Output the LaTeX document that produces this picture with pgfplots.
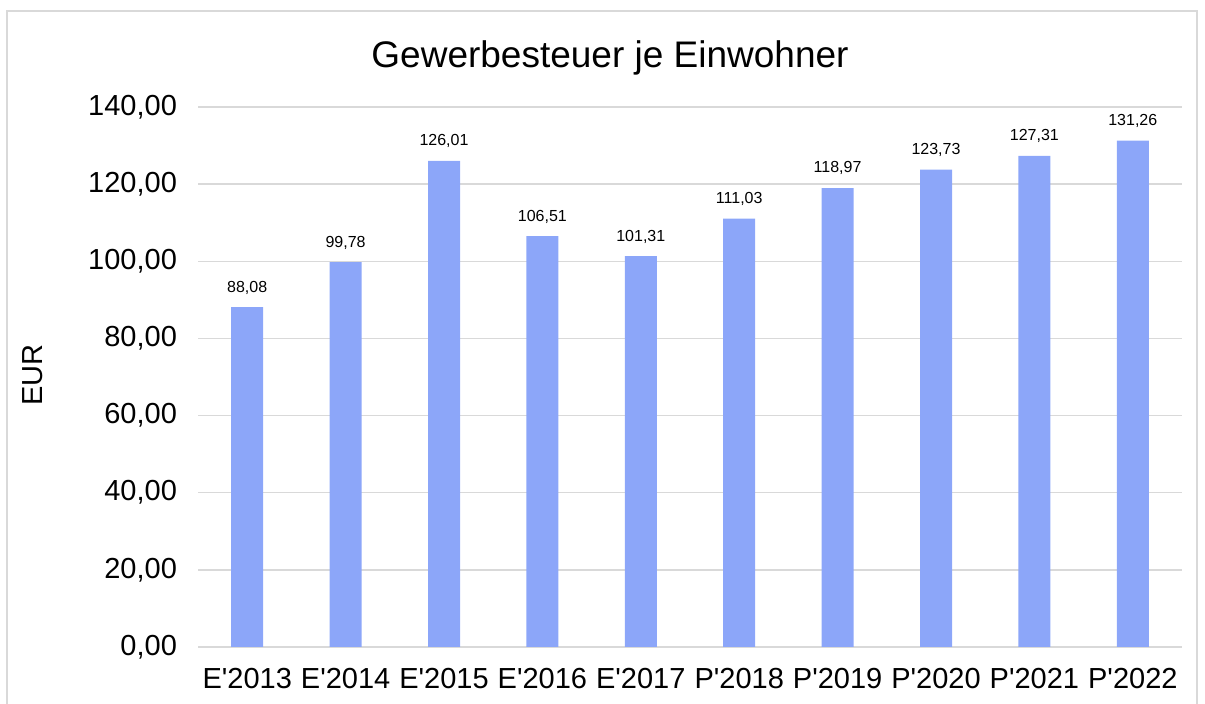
\documentclass[border=0pt]{standalone}
\usepackage{fontspec}
\setmainfont{Liberation Sans}
\usepackage{pgfplots}
\pgfplotsset{compat=1.18}
\definecolor{barblue}{HTML}{8CA6F9}
\definecolor{gridgray}{HTML}{D9D9D9}
\definecolor{framegray}{HTML}{D9D9D9}
\newcommand{\q}{\textquotesingle}

\begin{document}
\begin{tikzpicture}
  \useasboundingbox (0,0) rectangle (602.5pt,352pt);
  \draw[framegray, line width=0.75pt] (3.5pt,-5pt) -- (3.5pt,346.5pt) -- (598.5pt,346.5pt) -- (598.5pt,-5pt);
  \node[font=\fontsize{18.5}{22}\selectfont] at (305pt,323pt) {Gewerbesteuer je Einwohner};
  \node[rotate=90, font=\fontsize{14.5}{17}\selectfont] at (16.5pt,164.5pt) {EUR};
  \begin{axis}[
    at={(99pt,28.5pt)}, anchor=south west,
    scale only axis, width=492pt, height=270pt,
    ybar, bar width=16pt,
    xmin=-0.5, xmax=9.5, ymin=0, ymax=140,
    xtick=data,
    xticklabels={E\q2013,E\q2014,E\q2015,E\q2016,E\q2017,P\q2018,P\q2019,P\q2020,P\q2021,P\q2022},
    ytick={0,20,40,60,80,100,120,140},
    ymajorgrids, grid style={gridgray, line width=0.75pt},
    axis line style={draw=none},
    major tick length=0pt,
    tick label style={font=\fontsize{14.5}{17}\selectfont},
    yticklabel style={xshift=-7pt},
    xticklabel style={yshift=-7pt},
    /pgf/number format/assume math mode=true,
    y tick label style={/pgf/number format/.cd, fixed, fixed zerofill, precision=2, use comma},
    nodes near coords,
    nodes near coords style={font=\fontsize{8}{10}\selectfont, black, yshift=3pt,
      /pgf/number format/.cd, fixed, fixed zerofill, precision=2, use comma, assume math mode=true},
    clip=false,
  ]
    \draw[gridgray, line width=0.75pt] (axis cs:-0.5,0) -- (axis cs:9.5,0);
    \addplot[fill=barblue, draw=none] coordinates {
      (0,88.08) (1,99.78) (2,126.01) (3,106.51) (4,101.31)
      (5,111.03) (6,118.97) (7,123.73) (8,127.31) (9,131.26)};
  \end{axis}
\end{tikzpicture}
\end{document}
